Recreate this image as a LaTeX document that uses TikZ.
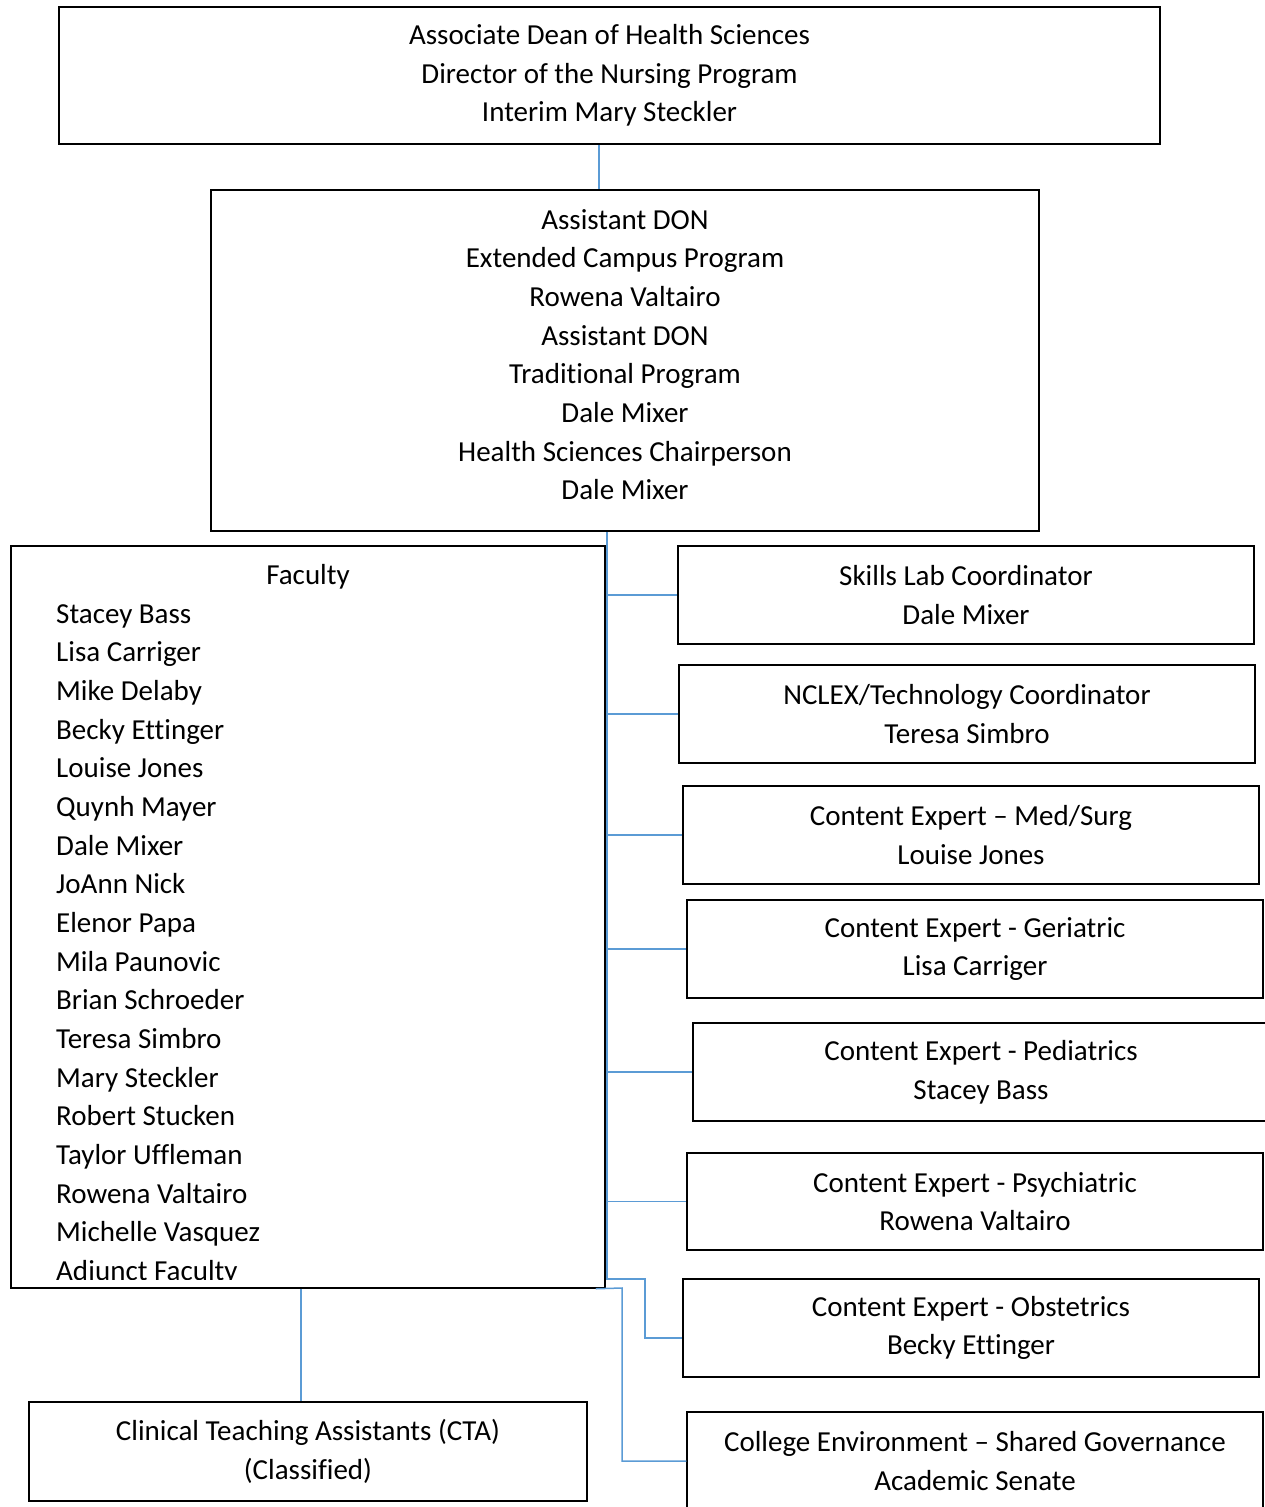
\documentclass[tikz,border=0pt]{standalone}
\usepackage{fontspec}
\setmainfont{Carlito}[Ligatures=NoCommon]
\begin{document}
\begin{tikzpicture}[x=1pt,y=-1pt,
  box/.style={draw,line width=1.5pt,align=center,inner sep=0pt,font=\fontsize{29}{38.65}\selectfont},
  side/.style={box,minimum width=576pt,minimum height=98pt},
  who/.style={anchor=base west,inner sep=0pt,font=\fontsize{29}{38.65}\selectfont},
  link/.style={draw=kBlue,line width=1.5pt}]
  % colors
  \definecolor{kBlue}{RGB}{91,155,213}
  \useasboundingbox (0,0) rectangle (1264,1507);
  % top boxes
  \node[box,minimum width=1101pt,minimum height=137pt] (dean) at (609.5,75.5)
    {Associate Dean of Health Sciences\\Director of the Nursing Program\\Interim Mary Steckler};
  \node[box,minimum width=828pt,minimum height=341pt] (assistant) at (625,360.5)
    {Assistant DON\\Extended Campus Program\\Rowena Valtairo\\Assistant DON\\Traditional Program\\Dale Mixer\\Health Sciences Chairperson\\Dale Mixer\rule[-12pt]{0pt}{12pt}};
  % faculty
  \node[box,minimum width=594pt,minimum height=742pt] (faculty) at (308,917) {};
  \node[box,draw=none,anchor=base] (facultyhead) at (308,584.6) {Faculty};
  \begin{scope}
    \clip (faculty.north west) rectangle (605,1279.5);
    \foreach \who [count=\i from 0] in {Stacey Bass, Lisa Carriger, Mike Delaby, Becky Ettinger,
      Louise Jones, Quynh Mayer, Dale Mixer, JoAnn Nick, Elenor Papa, Mila Paunovic,
      Brian Schroeder, Teresa Simbro, Mary Steckler, Robert Stucken, Taylor Uffleman,
      Rowena Valtairo, Michelle Vasquez, Adjunct Faculty}
      \node[who] (name\i) at (56,623.3+38.65*\i) {\who};
  \end{scope}
  \node[box,minimum width=558pt,minimum height=99pt] (cta) at (308,1451.5)
    {Clinical Teaching Assistants (CTA)\\(Classified)};
  % side boxes
  \node[side] (skills) at (966,595) {Skills Lab Coordinator\\Dale Mixer};
  \node[side] (nclex) at (967,714) {NCLEX/Technology Coordinator\\Teresa Simbro};
  \node[side] (medsurg) at (971,835) {Content Expert – Med/Surg\\Louise Jones};
  \node[side] (geriatric) at (975,949) {Content Expert - Geriatric\\Lisa Carriger};
  \node[side] (pediatrics) at (981,1072) {Content Expert - Pediatrics\\Stacey Bass};
  \node[side,minimum height=97pt] (psychiatric) at (975,1201.5) {Content Expert - Psychiatric\\Rowena Valtairo};
  \node[side] (obstetrics) at (971,1328) {Content Expert - Obstetrics\\Becky Ettinger};
  \node[side] (college) at (975,1461) {College Environment – Shared Governance\\Academic Senate};
  % connectors
  \coordinate (trunk) at (607,0);
  \coordinate (bendA) at (645,1279);
  \coordinate (bendB) at (622,1288);
  \draw[link] (dean.south -| 599,0) -- (assistant.north -| 599,0);
  \draw[link] (assistant.south -| trunk) |- (bendA) |- ([yshift=-10pt]obstetrics.west);
  \foreach \tgt in {skills,nclex,medsurg,geriatric,pediatrics,psychiatric}
    \draw[link] (\tgt.west -| trunk) -- (\tgt.west);
  \draw[link] ([xshift=-10pt]faculty.south east) -- (bendB) |- (college.west);
  \draw[link] ([xshift=-7pt]faculty.south) -- ([xshift=-7pt]cta.north);
\end{tikzpicture}
\end{document}
